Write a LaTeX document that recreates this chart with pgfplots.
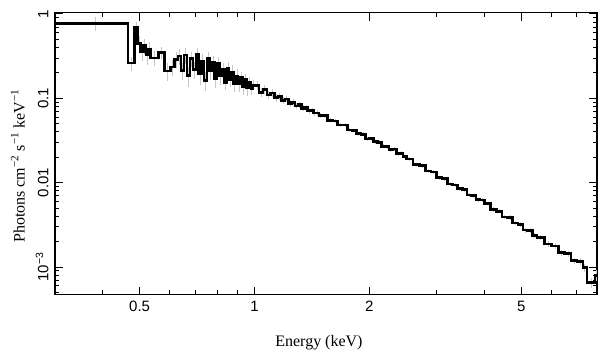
\documentclass[border=0pt]{standalone}
\usepackage{fontspec}
\setmainfont{Liberation Serif}
\setsansfont{Liberation Sans}
\usepackage{pgfplots}
\usepackage{pgfplotstable}
\pgfplotsset{compat=1.18}
\pgfplotstableread{
lo c f e
0.300 0.383 0.776 0.15
0.466 0.4755 0.262 0.05
0.485 0.4895 0.690 0.12
0.494 0.4985 0.450 0.10
0.503 0.5075 0.360 0.08
0.512 0.516 0.420 0.09
0.520 0.5235 0.330 0.08
0.527 0.5305 0.380 0.08
0.534 0.5475 0.300 0.06
0.561 0.571 0.350 0.06
0.581 0.592 0.210 0.05
0.603 0.6105 0.235 0.05
0.618 0.624 0.290 0.06
0.630 0.636 0.316 0.07
0.642 0.648 0.213 0.05
0.654 0.660 0.325 0.07
0.666 0.672 0.186 0.05
0.678 0.684 0.296 0.06
0.690 0.696 0.221 0.05
0.702 0.708 0.329 0.07
0.714 0.720 0.194 0.05
0.726 0.732 0.274 0.06
0.738 0.744 0.163 0.04
0.750 0.756 0.298 0.06
0.762 0.768 0.214 0.05
0.774 0.780 0.264 0.05
0.786 0.792 0.172 0.04
0.798 0.804 0.262 0.05
0.810 0.816 0.184 0.04
0.822 0.828 0.219 0.04
0.834 0.840 0.155 0.03
0.846 0.852 0.227 0.04
0.858 0.864 0.166 0.03
0.870 0.876 0.206 0.04
0.882 0.888 0.148 0.03
0.894 0.900 0.185 0.035
0.906 0.912 0.150 0.03
0.918 0.924 0.178 0.03
0.930 0.936 0.136 0.025
0.942 0.948 0.166 0.03
0.954 0.960 0.132 0.025
0.966 0.972 0.156 0.025
0.978 0.984 0.131 0.02
0.990 0.996 0.144 0.02
1.002 1.0145 0.1429 0.016
1.027 1.0395 0.1176 0.014
1.052 1.0645 0.1280 0.014
1.077 1.0895 0.1098 0.012
1.102 1.1145 0.1162 0.012
1.127 1.1395 0.1019 0.011
1.152 1.1645 0.1059 0.011
1.177 1.1895 0.0949 0.010
1.202 1.2145 0.0987 0.009
1.227 1.2395 0.0868 0.008
1.252 1.2645 0.0897 0.008
1.277 1.2895 0.0814 0.007
1.302 1.3145 0.0841 0.007
1.327 1.3395 0.0764 0.006
1.352 1.3645 0.0776 0.006
1.377 1.3895 0.0706 0.005
1.402 1.4145 0.0725 0.005
1.427 1.4395 0.0667 0.005
1.452 1.4645 0.0672 0.005
1.477 1.4895 0.0625 0.004
1.502 1.527 0.0625 0.0035
1.552 1.577 0.0549 0.003
1.602 1.627 0.0539 0.003
1.652 1.677 0.0484 0.0027
1.702 1.727 0.0482 0.0026
1.752 1.777 0.0422 0.0023
1.802 1.827 0.0417 0.0022
1.852 1.877 0.0382 0.002
1.902 1.927 0.0375 0.002
1.952 1.977 0.0330 0.0018
2.002 2.027 0.0333 0.0018
2.052 2.077 0.0306 0.0016
2.102 2.127 0.0302 0.0016
2.152 2.177 0.0270 0.0014
2.202 2.227 0.0268 0.0014
2.252 2.277 0.0247 0.0013
2.302 2.327 0.0250 0.0013
2.352 2.377 0.0222 0.0012
2.402 2.427 0.0223 0.0012
2.452 2.477 0.0206 0.0011
2.502 2.552 0.01918 0.0009
2.602 2.652 0.01634 0.0008
2.702 2.752 0.01592 0.0008
2.802 2.852 0.01380 0.0007
2.902 2.952 0.01340 0.0007
3.002 3.052 0.01146 0.0006
3.102 3.152 0.01119 0.0006
3.202 3.252 0.00961 0.0005
3.302 3.352 0.00944 0.0005
3.402 3.452 0.00848 0.00045
3.502 3.552 0.00828 0.00045
3.602 3.652 0.00718 0.0004
3.702 3.752 0.00704 0.0004
3.802 3.852 0.00632 0.00035
3.902 3.952 0.00621 0.00035
4.002 4.077 0.00568 0.0003
4.152 4.227 0.00482 0.00027
4.302 4.377 0.00459 0.00026
4.452 4.527 0.00393 0.00023
4.602 4.677 0.00388 0.00023
4.752 4.827 0.00334 0.0002
4.902 4.977 0.00322 0.0002
5.052 5.127 0.00274 0.00018
5.202 5.277 0.00273 0.00018
5.352 5.427 0.00238 0.00016
5.502 5.627 0.00225 0.00016
5.752 5.877 0.00187 0.00014
6.002 6.127 0.00178 0.00014
6.252 6.377 0.00149 0.00012
6.502 6.627 0.00144 0.00012
6.752 6.877 0.00119 0.0001
7.002 7.127 0.00117 0.0001
7.252 7.341 0.00098 0.0001
7.430 7.620 0.00066 0.00009
7.810 7.880 0.00080 0.00012
7.950 nan 0.00080 0
}\spec
\begin{document}
\begin{tikzpicture}
\begin{loglogaxis}[
 scale only axis, width=542pt, height=282pt,
 xmin=0.3, xmax=7.9, ymin=4.7e-4, ymax=1.036,
 xtick={0.5,1,2,5}, xticklabels={0.5,1,2,5},
 minor xtick={0.3,0.4,0.6,0.7,0.8,0.9,3,4,6,7},
 ytick={0.001,0.01,0.1,1}, yticklabels={10\textsuperscript{−3},0.01,0.1,1},
 minor ytick={0.0005,0.0006,0.0007,0.0008,0.0009,0.002,0.003,0.004,0.005,0.006,0.007,0.008,0.009,0.02,0.03,0.04,0.05,0.06,0.07,0.08,0.09,0.2,0.3,0.4,0.5,0.6,0.7,0.8,0.9},
 tick align=inside, major tick length=8pt, minor tick length=4.5pt,
 every tick/.style={black, line width=1pt},
 axis line style={line width=1.3pt},
 ticklabel style={font=\fontsize{15}{17}\sffamily},
 yticklabel style={rotate=90, anchor=south},
 xticklabel shift=3pt, yticklabel shift=3pt,
 xlabel={Energy (keV)},
 ylabel={Photons cm\textsuperscript{−2} s\textsuperscript{−1} keV\textsuperscript{−1}},
 label style={font=\fontsize{16}{19}\selectfont},
 xlabel style={at={(axis description cs:0.487,-0.1844)}, anchor=base},
 ylabel style={at={(axis description cs:-0.0683,0.456)}, anchor=center},
]
\addplot[draw=none, mark=none, forget plot, error bars/.cd, y dir=both, y explicit, error mark=none, error bar style={draw=black!22, line width=0.8pt}] table[x=c, y=f, y error=e] {\spec};
\addplot[const plot mark left, line width=2.6pt, black, mark=none] table[x=lo, y=f] {\spec};
\end{loglogaxis}
\path (current axis.south west) ++(-55pt,-62pt);
\path (current axis.north east) ++(12pt,12.7pt);
\end{tikzpicture}
\end{document}
